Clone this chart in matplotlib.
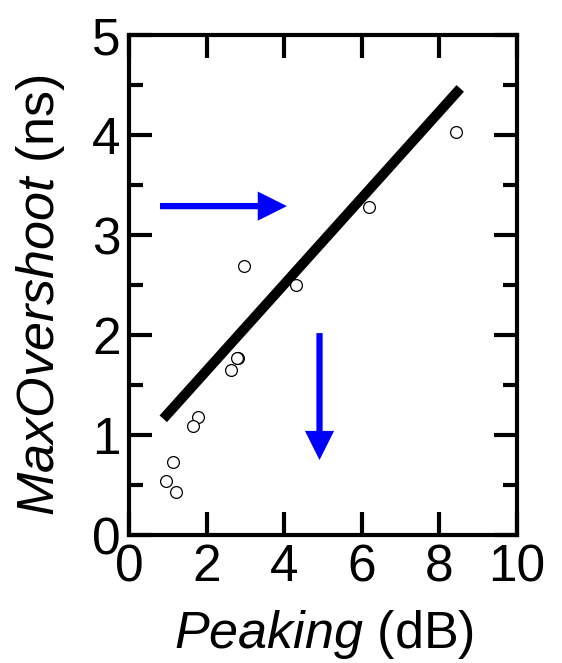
import numpy as np
import matplotlib
matplotlib.use('Agg')
import matplotlib.pyplot as plt

plt.rcParams['font.family'] = ['Liberation Sans', 'DejaVu Sans']
plt.rcParams['mathtext.fontset'] = 'custom'
plt.rcParams['mathtext.rm'] = 'Liberation Sans'
plt.rcParams['mathtext.it'] = 'Liberation Sans:italic'

# measured points (peaking dB, max overshoot ns)
peaking = [8.43, 6.19, 2.97, 4.30, 2.82, 2.78, 2.62, 1.79, 1.66, 1.13, 0.95, 1.21]
overshoot = [4.03, 3.28, 2.69, 2.50, 1.77, 1.77, 1.65, 1.18, 1.09, 0.73, 0.54, 0.43]
# linear fit end points
fit_x = [0.97, 8.45]
fit_y = [1.20, 4.43]
# blue arrows (start, end) in data units
arrow_h = [(0.80, 3.29), (4.07, 3.29)]
arrow_v = [(4.91, 2.02), (4.91, 0.75)]

fig = plt.figure(figsize=(5.62, 6.63), dpi=100)
ax = fig.add_axes([0.2295, 0.193, 0.6905, 0.754])

ax.plot(fit_x, fit_y, color='black', lw=7.2, solid_capstyle='projecting', zorder=3)
ax.plot(peaking, overshoot, 'o', ms=8.5, mfc='white', mec='black', mew=0.9, zorder=4)

for (s, e) in [arrow_h, arrow_v]:
    ax.annotate('', xy=e, xytext=s,
                arrowprops=dict(arrowstyle='simple,head_length=21,head_width=21,tail_width=4.5',
                                mutation_scale=1, fc='#0000ff', ec='none', lw=0,
                                shrinkA=0, shrinkB=0), zorder=5)

ax.set_xlim(0, 10)
ax.set_ylim(0, 5)
ax.set_xticks([0, 2, 4, 6, 8, 10])
ax.set_yticks([0, 1, 2, 3, 4, 5])
ax.set_yticks(np.arange(0.5, 5, 1.0), minor=True)
ax.tick_params(which='both', direction='in', top=True, right=True, width=3.0)
ax.tick_params(which='major', length=16.5, labelsize=37, pad=6)
ax.tick_params(which='minor', length=10)
for sp in ax.spines.values():
    sp.set_linewidth(3.0)

ax.set_xlabel(r'$\mathit{Peaking}$ (dB)', fontsize=37.5)
ax.set_ylabel(r'$\mathit{MaxOvershoot}$ (ns)', fontsize=37.5)
ax.xaxis.set_label_coords(0.503, -0.145)
ax.yaxis.set_label_coords(-0.16, 0.48)

fig.savefig('out.png', dpi=100)
